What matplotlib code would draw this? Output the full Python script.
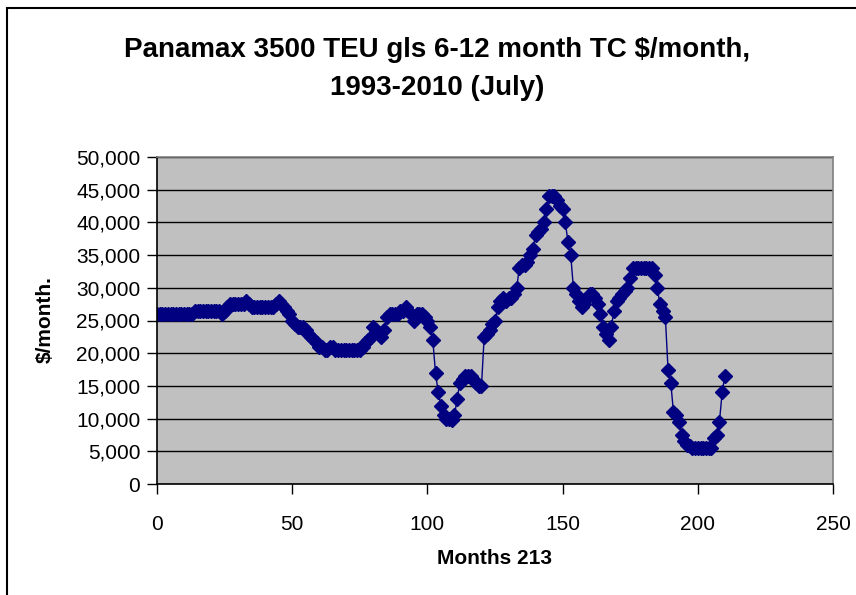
import matplotlib
matplotlib.use("Agg")
import matplotlib.pyplot as plt
from matplotlib.patches import Rectangle
from matplotlib.ticker import FuncFormatter, MultipleLocator

# monthly 6-12 month TC rate, $/month
rates = [
    26000, 26000, 26000, 26000, 26000, 26000, 26000, 26000, 26000, 26000,
    26000, 26000, 26000, 26000, 26500, 26500, 26500, 26500, 26500, 26500,
    26500, 26500, 26500, 26500, 26000, 26500, 27000, 27500, 27500, 27500,
    27500, 27500, 27500, 28000, 27500, 27000, 27000, 27000, 27000, 27000,
    27000, 27000, 27000, 27000, 27500, 28000, 27500, 27000, 26500, 26000,
    25000, 24500, 24000, 24000, 24000, 23500, 23000, 22500, 22000, 21500,
    21000, 21000, 20500, 20500, 21000, 21000, 20500, 20500, 20500, 20500,
    20500, 20500, 20500, 20500, 20500, 20500, 21000, 21500, 22000, 22500,
    24000, 23500, 23000, 22500, 23500, 25500, 26000, 26000, 26000, 26000,
    26500, 26500, 27000, 26500, 26000, 25000, 26000, 26000, 26000, 25500,
    25000, 24000, 22000, 17000, 14000, 12000, 10500, 10000, 10000, 9800,
    10500, 13000, 15500, 16000, 16500, 16500, 16500, 16000, 15500, 15000,
    15000, 22500, 23000, 23500, 24500, 25000, 27000, 28000, 28500, 28000,
    28500, 28500, 29000, 30000, 33000, 33500, 33500, 34000, 35000, 36000,
    38000, 38500, 39000, 40000, 42000, 44000, 44000, 44000, 43500, 42500,
    42000, 40000, 37000, 35000, 30000, 29000, 28000, 27000, 27500, 28500,
    29000, 29000, 28500, 27500, 26000, 24000, 23000, 22000, 24000, 26500,
    28000, 28500, 29000, 29500, 30000, 31500, 33000, 33000, 33000, 33000,
    33000, 33000, 33000, 33000, 32000, 30000, 27500, 26500, 25500, 17500,
    15500, 11000, 10500, 9500, 7500, 6500, 6000, 5800, 5500, 5500,
    5500, 5500, 5500, 5500, 5500, 5500, 7000, 7500, 9500, 14000,
    16500,
]
months = list(range(len(rates)))

title = "Panamax 3500 TEU gls 6-12 month TC \\$/month,\n1993-2010 (July)"
xlabel = "Months 213"
ylabel = "\\$/month."

plt.rcParams["font.family"] = ["Liberation Sans", "DejaVu Sans"]

fig = plt.figure(figsize=(8.56, 5.95), dpi=100)
fig.patch.set_facecolor("white")

# chart-area frame (runs off the right and bottom edges of the image)
fig.patches.append(Rectangle((7 / 856, -0.05), 1.05, 1 - 8 / 595 + 0.05,
                             transform=fig.transFigure, fill=False,
                             edgecolor="black", linewidth=1.5))

ax = fig.add_axes([157 / 856, 1 - 484 / 595, 676 / 856, 327 / 595])
ax.set_facecolor("#c0c0c0")
ax.plot(months, rates, color="#000080", linewidth=1.0, marker="D",
        markersize=7, markerfacecolor="#000080", markeredgecolor="#000080")

ax.set_xlim(0, 250)
ax.set_ylim(0, 50000)
ax.xaxis.set_major_locator(MultipleLocator(50))
ax.yaxis.set_major_locator(MultipleLocator(5000))
ax.yaxis.set_major_formatter(FuncFormatter(lambda v, p: f"{int(v):,}"))
ax.grid(axis="y", color="black", linewidth=1.0)
ax.set_axisbelow(True)

ax.tick_params(axis="both", direction="out", length=7, width=1, labelsize=15)
ax.tick_params(axis="x", pad=15)
ax.tick_params(axis="y", pad=5)

for side in ["left", "bottom"]:
    ax.spines[side].set_color("black")
    ax.spines[side].set_linewidth(1.2)
for side in ["top", "right"]:
    ax.spines[side].set_color("#808080")
    ax.spines[side].set_linewidth(1.2)

fig.text(437 / 856, 1 - 69 / 595, title, ha="center", va="center",
         fontsize=20, fontweight="bold", linespacing=1.6)
fig.text(494 / 856, 1 - 559 / 595, xlabel, ha="center", va="center",
         fontsize=15, fontweight="bold")
fig.text(45 / 856, 1 - 320 / 595, ylabel, ha="center", va="center",
         fontsize=15, fontweight="bold", rotation=90)

fig.savefig("out.png", dpi=100)
